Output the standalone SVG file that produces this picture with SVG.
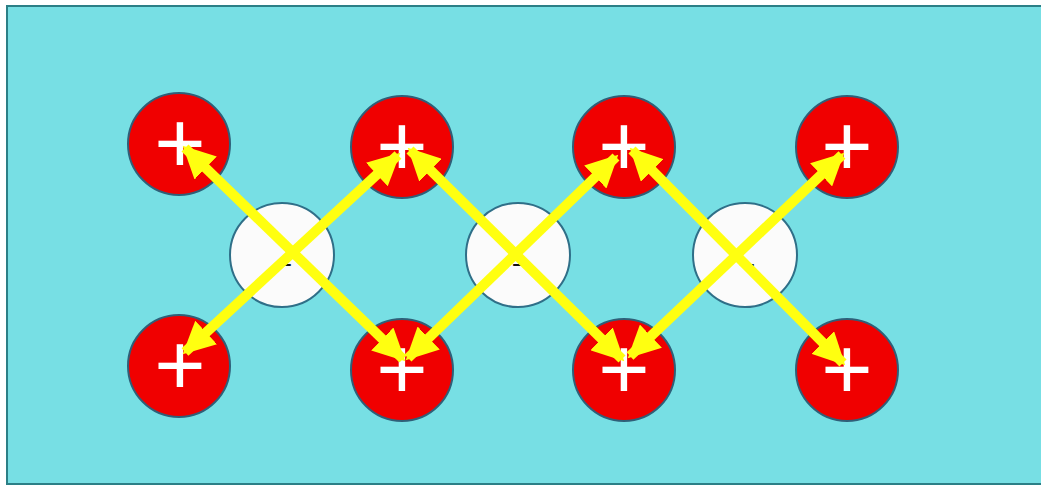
<svg xmlns="http://www.w3.org/2000/svg" width="1041" height="488" viewBox="0 0 1041 488">
<style>
.bg{fill:#77dfe4;stroke:#2b7f86;stroke-width:2}
.pos{fill:#f00000;stroke:#2f5f78;stroke-width:2}
.neg{fill:#fbfbfb;stroke:#2f6f88;stroke-width:2}
.plus{fill:#ffffff;font-family:"Liberation Sans",Arial,sans-serif;font-size:88px;text-anchor:middle}
.minus{fill:#111;font-family:"Liberation Sans",Arial,sans-serif;font-size:28px;text-anchor:middle}
.arr{stroke:#ffff10;stroke-width:10;fill:none;marker-start:url(#ah);marker-end:url(#ah)}
</style>
<defs>
<marker id="ah" viewBox="0 0 10 10" refX="9" refY="5" markerWidth="3.2" markerHeight="3.2" orient="auto-start-reverse" markerUnits="strokeWidth">
<path d="M0,0 L10,5 L0,10 z" fill="#ffff10"/>
</marker>
</defs>
<rect class="bg" x="7" y="6" width="1040" height="478"/>
<g id="n-top1"><circle class="pos" cx="179" cy="144" r="51"/><text class="plus" x="180" y="173">+</text></g>
<g id="n-top2"><circle class="pos" cx="402" cy="147" r="51"/><text class="plus" x="402" y="176">+</text></g>
<g id="n-top3"><circle class="pos" cx="624" cy="147" r="51"/><text class="plus" x="624" y="176">+</text></g>
<g id="n-top4"><circle class="pos" cx="847" cy="147" r="51"/><text class="plus" x="847" y="176">+</text></g>
<g id="n-bot1"><circle class="pos" cx="179" cy="366" r="51"/><text class="plus" x="180" y="395">+</text></g>
<g id="n-bot2"><circle class="pos" cx="402" cy="370" r="51"/><text class="plus" x="402" y="399">+</text></g>
<g id="n-bot3"><circle class="pos" cx="624" cy="370" r="51"/><text class="plus" x="624" y="399">+</text></g>
<g id="n-bot4"><circle class="pos" cx="847" cy="370" r="51"/><text class="plus" x="847" y="399">+</text></g>
<g id="n-neg1"><circle class="neg" cx="282" cy="255" r="52"/><text class="minus" x="284" y="274">−</text></g>
<g id="n-neg2"><circle class="neg" cx="518" cy="255" r="52"/><text class="minus" x="520" y="274">−</text></g>
<g id="n-neg3"><circle class="neg" cx="745" cy="255" r="52"/><text class="minus" x="747" y="274">−</text></g>
<g id="connectors">
<line class="arr" x1="185" y1="148" x2="403" y2="359"/>
<line class="arr" x1="185" y1="352" x2="398" y2="155"/>
<line class="arr" x1="410" y1="150" x2="622" y2="359"/>
<line class="arr" x1="408" y1="358" x2="616" y2="157"/>
<line class="arr" x1="632" y1="150" x2="843" y2="363"/>
<line class="arr" x1="630" y1="356" x2="842" y2="155"/>
</g>
</svg>
